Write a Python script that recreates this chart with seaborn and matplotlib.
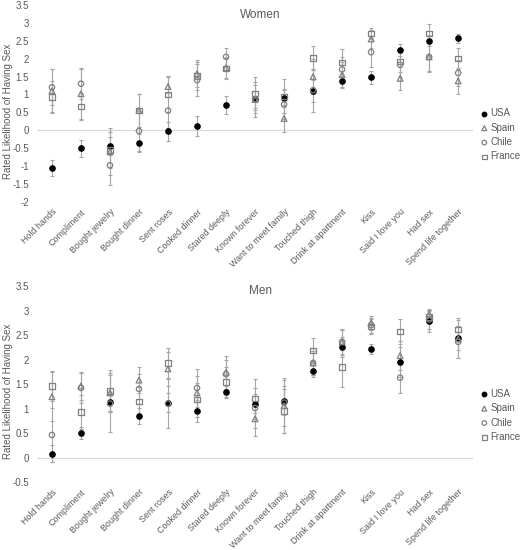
import numpy as np
import pandas as pd
import matplotlib
matplotlib.use("Agg")
import matplotlib.pyplot as plt
import seaborn as sns

# behaviours on the x axis
acts = ["Hold hands", "Compliment", "Bought jewelry", "Bought dinner", "Sent roses",
        "Cooked dinner", "Stared deeply", "Known forever", "Want to meet family",
        "Touched thigh", "Drink at apartment", "Kiss", "Said I love you", "Had sex",
        "Spend life together"]
countries = ["USA", "Spain", "Chile", "France"]

# Women - means
w_usa = [-1.05, -0.5, -0.45, -0.35, -0.03, 0.12, 0.7, 0.86, 0.9, 1.1, 1.38, 1.48, 2.25, 2.5, 2.57]
w_spain = [1.1, 1.02, -0.6, 0.55, 1.22, 1.58, 1.75, 0.86, 0.33, 1.5, 1.55, 2.55, 1.45, 2.05, 1.38]
w_chile = [1.2, 1.3, -0.98, -0.02, 0.55, 1.4, 2.05, 0.87, 0.72, 1.12, 1.7, 2.18, 1.83, 2.05, 1.6]
w_france = [0.93, 0.67, -0.55, 0.55, 1.0, 1.52, 1.73, 1.03, 0.95, 2.02, 1.9, 2.7, 1.92, 2.7, 2.0]
# Women - error bars
w_usa_err = [0.23, 0.24, 0.25, 0.25, 0.27, 0.27, 0.25, 0.25, 0.25, 0.3, 0.2, 0.18, 0.17, 0.15, 0.12]
w_spain_err = [0.6, 0.7, 0.65, 0.47, 0.3, 0.37, 0.3, 0.5, 0.38, 0.5, 0.35, 0.25, 0.32, 0.43, 0.36]
w_chile_err = [0.5, 0.43, 0.55, 0.55, 0.5, 0.45, 0.25, 0.4, 0.4, 0.6, 0.35, 0.4, 0.35, 0.4, 0.35]
w_france_err = [0.45, 0.37, 0.5, 0.45, 0.5, 0.4, 0.3, 0.47, 0.47, 0.33, 0.38, 0.15, 0.3, 0.27, 0.3]

# Men - means
m_usa = [0.08, 0.5, 1.14, 0.85, 1.12, 0.95, 1.34, 1.1, 1.16, 1.77, 2.26, 2.22, 1.95, 2.79, 2.44]
m_spain = [1.24, 1.46, 1.32, 1.58, 1.81, 1.32, 1.74, 0.79, 1.06, 1.93, 2.36, 2.75, 2.08, 2.93, 2.42]
m_chile = [0.46, 1.42, 1.1, 1.4, 1.1, 1.42, 1.7, 1.01, 1.12, 1.93, 2.36, 2.7, 1.63, 2.82, 2.36]
m_france = [1.46, 0.93, 1.36, 1.14, 1.93, 1.18, 1.54, 1.2, 0.95, 2.18, 1.85, 2.67, 2.57, 2.87, 2.61]
# Men - error bars
m_usa_err = [0.17, 0.12, 0.2, 0.16, 0.2, 0.22, 0.12, 0.2, 0.3, 0.12, 0.2, 0.1, 0.3, 0.22, 0.25]
m_spain_err = [0.5, 0.29, 0.4, 0.27, 0.35, 0.35, 0.34, 0.35, 0.56, 0.25, 0.27, 0.14, 0.3, 0.1, 0.39]
m_chile_err = [0.55, 0.3, 0.58, 0.3, 0.5, 0.39, 0.3, 0.4, 0.47, 0.25, 0.25, 0.15, 0.31, 0.2, 0.33]
m_france_err = [0.31, 0.35, 0.43, 0.3, 0.31, 0.35, 0.3, 0.41, 0.45, 0.26, 0.41, 0.15, 0.26, 0.12, 0.24]

panels = [
    ("Women", [w_usa, w_spain, w_chile, w_france],
     [w_usa_err, w_spain_err, w_chile_err, w_france_err], (-2, 3.5), np.arange(-2, 3.51, 0.5)),
    ("Men", [m_usa, m_spain, m_chile, m_france],
     [m_usa_err, m_spain_err, m_chile_err, m_france_err], (-0.5, 3.5), np.arange(-0.5, 3.51, 0.5)),
]

sns.set_theme(style="white")
plt.rcParams["font.family"] = ["Liberation Sans", "DejaVu Sans"]

txt = "#595959"
grey = "#808080"
errc = "#a6a6a6"
styles = {
    "USA": dict(marker="o", color="black", facecolor="black", edgecolor="black", s=15),
    "Spain": dict(marker="^", color=grey, facecolor="none", edgecolor=grey, s=17),
    "Chile": dict(marker="o", color=grey, facecolor="none", edgecolor=grey, s=15),
    "France": dict(marker="s", color=grey, facecolor="none", edgecolor=grey, s=15),
}

fig = plt.figure(figsize=(5.2, 5.5), dpi=100)
# axes boxes in figure fractions (left, bottom, width, height)
boxes = [(0.072, 0.633, 0.837, 0.358), (0.072, 0.1236, 0.837, 0.3564)]
label_y = [0.798, 0.289]
title_y = [0.972, 0.47]

for (name, means, errs, ylim, yticks), box, ly, ty in zip(panels, boxes, label_y, title_y):
    ax = fig.add_axes(box)
    df = pd.DataFrame({
        "act": np.tile(acts, len(countries)),
        "country": np.repeat(countries, len(acts)),
        "mean": np.concatenate(means),
        "err": np.concatenate(errs),
    })
    pos = np.arange(len(acts))
    ax.axhline(0, color="#d9d9d9", lw=0.9, zorder=0)
    for c in countries:
        sub = df[df.country == c]
        ax.errorbar(pos, sub["mean"], yerr=sub["err"], fmt="none", ecolor=errc,
                     elinewidth=0.8, capsize=1.5, capthick=0.8, zorder=1)
    for c in countries:
        sub = df[df.country == c]
        sns.scatterplot(data=sub, x="act", y="mean", ax=ax, label=c, linewidth=0.9,
                        zorder=3, **styles[c])

    ax.set_xlim(-0.5, len(acts) - 0.5)
    ax.set_ylim(*ylim)
    ax.set_yticks(yticks)
    ax.set_yticklabels([f"{v:g}" for v in yticks])
    ax.set_xticks(pos)
    ax.set_xticklabels(acts, rotation=45, ha="right", rotation_mode="anchor")
    ax.tick_params(axis="y", length=0, labelsize=7, colors=txt, pad=6)
    ax.tick_params(axis="x", length=0, labelsize=6.4, colors=txt, pad=4)
    ax.set_xlabel("")
    ax.set_ylabel("")
    sns.despine(ax=ax, left=True, bottom=True)
    ax.patch.set_alpha(0)

    fig.text(0.5, ty, name, ha="center", va="center", fontsize=8.5, color=txt)
    fig.text(0.016, ly, "Rated Likelihood of Having Sex", rotation=90,
             ha="center", va="center", fontsize=7, color=txt)

    leg = ax.legend(loc="center left", bbox_to_anchor=(1.02, 0.34), frameon=False,
                    fontsize=7, handlelength=0.6, handletextpad=0.3, labelspacing=0.45,
                    borderaxespad=0, borderpad=0, markerscale=0.85)
    for t in leg.get_texts():
        t.set_color(txt)

fig.savefig("out.png", dpi=100)
